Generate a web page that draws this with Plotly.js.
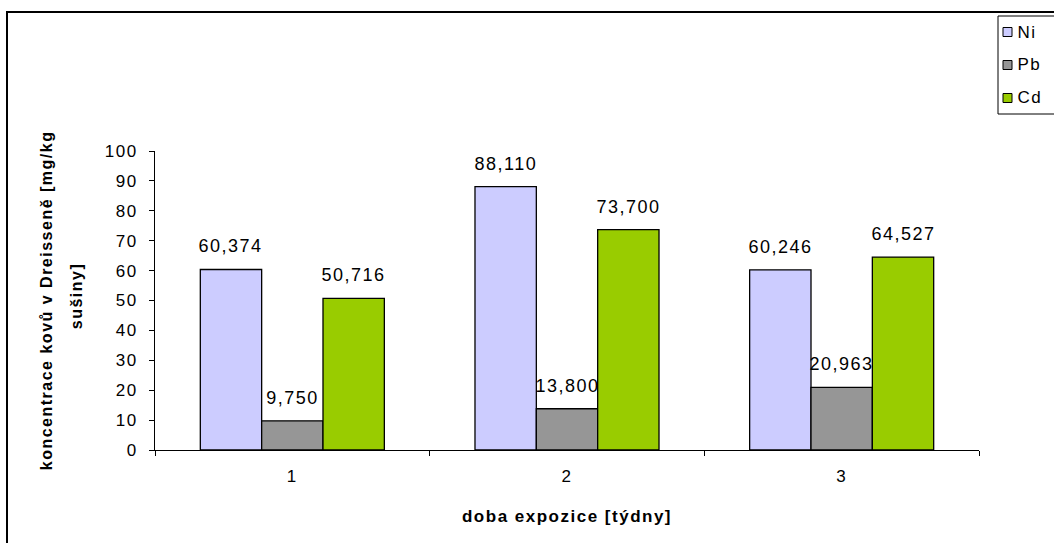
<!DOCTYPE html>
<html>
<head>
<meta charset="utf-8">
<script src="https://cdn.plot.ly/plotly-3.0.1.min.js"></script>
<style>
  html, body { margin: 0; padding: 0; background: #fff; }
  #chart { width: 1054px; height: 543px; }
  #chart svg text { letter-spacing: 1.5px; }
</style>
</head>
<body>
<div id="chart"></div>
<script>
// Exposure time (weeks) and metal concentrations in Dreissena dry mass
const weeks = ['1', '2', '3'];
const ni = [60.374, 88.110, 60.246];
const pb = [9.750, 13.800, 20.963];
const cd = [50.716, 73.700, 64.527];
const seriesNames = ['Ni', 'Pb', 'Cd'];
const seriesColors = ['#CCCCFF', '#969696', '#99CC00'];
const yTicks = [0, 10, 20, 30, 40, 50, 60, 70, 80, 90, 100];

const FONT = 'Liberation Sans, Arial, sans-serif';
const W = 1054, H = 543;
const L = 155, R = 979, T = 151, B = 450;   // plot area in pixels
const pw = R - L, ph = B - T;
const px = x => (x - L) / pw;
const py = y => (B - y) / ph;

const series = [ni, pb, cd];
const traces = series.map((vals, i) => ({
  type: 'bar',
  name: seriesNames[i],
  x: weeks,
  y: vals,
  marker: { color: seriesColors[i], line: { color: '#000', width: 1.3 } },
  hoverinfo: 'none'
}));

// value labels above each bar, decimal comma
const fmt = v => v.toFixed(3).replace('.', ',');
const barW = pw / weeks.length * (1 - 0.33) / series.length;
const annotations = [];
series.forEach((vals, i) => {
  vals.forEach((v, j) => {
    annotations.push({
      x: j, xref: 'x', y: v, yref: 'y',
      xshift: (i - 1) * barW,
      yshift: 23,
      text: fmt(v),
      showarrow: false,
      font: { family: FONT, size: 18, color: '#000' }
    });
  });
});

// y-axis title, two lines
const yTitleFont = { family: FONT, size: 16, color: '#000', weight: 'bold' };
annotations.push({
  xref: 'paper', yref: 'paper', x: px(46), y: py(301),
  text: 'koncentrace kovů v Dreisseně [mg/kg',
  textangle: -90, showarrow: false, font: yTitleFont,
  xanchor: 'center', yanchor: 'middle'
});
annotations.push({
  xref: 'paper', yref: 'paper', x: px(76), y: py(296),
  text: 'sušiny]',
  textangle: -90, showarrow: false, font: yTitleFont,
  xanchor: 'center', yanchor: 'middle'
});

const shapes = [
  // outer chart border
  { type: 'rect', xref: 'paper', yref: 'paper',
    x0: px(7), x1: px(1080), y0: py(580), y1: py(12),
    line: { color: '#000', width: 2 }, fillcolor: 'rgba(0,0,0,0)', layer: 'below' },
  // legend box
  { type: 'rect', xref: 'paper', yref: 'paper',
    x0: px(998), x1: px(1080), y0: py(114), y1: py(16),
    line: { color: '#000', width: 1 }, fillcolor: '#fff', layer: 'above' }
];

// legend entries: small swatch + series name
const legendRows = [32, 65, 98];
seriesNames.forEach((name, i) => {
  const cy = legendRows[i];
  shapes.push({
    type: 'rect', xref: 'paper', yref: 'paper',
    x0: px(1003), x1: px(1012), y0: py(cy + 4.5), y1: py(cy - 4.5),
    line: { color: '#000', width: 1 }, fillcolor: seriesColors[i], layer: 'above'
  });
  annotations.push({
    xref: 'paper', yref: 'paper', x: px(1017), y: py(cy),
    xanchor: 'left', yanchor: 'middle', showarrow: false,
    text: name, font: { family: FONT, size: 17, color: '#000' }
  });
});

const layout = {
  width: W, height: H,
  margin: { l: L, r: W - R, t: T, b: H - B, pad: 0 },
  paper_bgcolor: '#fff', plot_bgcolor: '#fff',
  barmode: 'group',
  bargap: 0.33,
  bargroupgap: 0,
  showlegend: false,
  xaxis: {
    type: 'category',
    tickson: 'boundaries',
    ticks: 'outside', ticklen: 5, tickcolor: '#000',
    ticklabelstandoff: 11,
    showline: true, linecolor: '#000', linewidth: 1,
    showgrid: false, zeroline: false, automargin: false,
    tickfont: { family: FONT, size: 17, color: '#000' },
    title: { text: 'doba expozice [týdny]', standoff: 24,
      font: { family: FONT, size: 17, color: '#000', weight: 'bold' } }
  },
  yaxis: {
    range: [0, 100],
    tickvals: yTicks, ticktext: yTicks.map(String),
    ticks: 'outside', ticklen: 5, tickcolor: '#000',
    ticklabelstandoff: 8,
    showline: true, linecolor: '#000', linewidth: 1,
    showgrid: false, zeroline: false, automargin: false,
    tickfont: { family: FONT, size: 17, color: '#000' }
  },
  annotations: annotations,
  shapes: shapes
};

Plotly.newPlot('chart', traces, layout, { displayModeBar: false, staticPlot: true });
</script>
</body>
</html>
